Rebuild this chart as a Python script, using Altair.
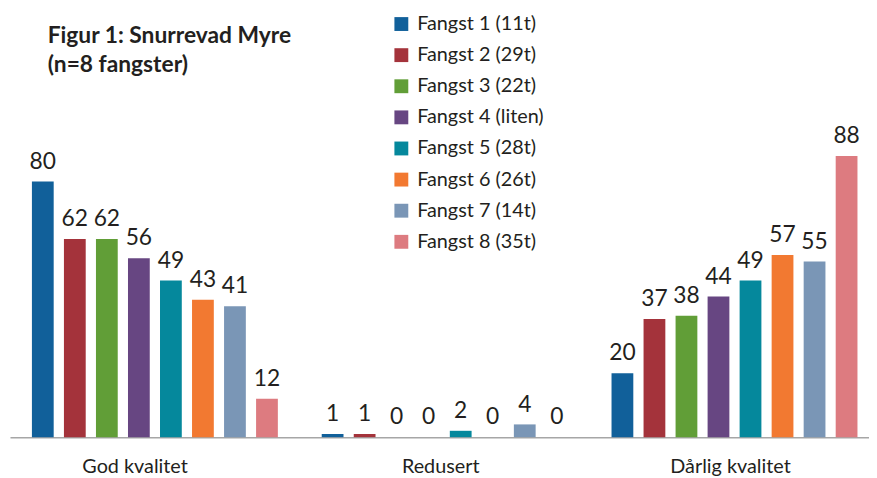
import altair as alt
import pandas as pd

categories = ["God kvalitet", "Redusert", "Dårlig kvalitet"]
series = ["Fangst 1 (11t)", "Fangst 2 (29t)", "Fangst 3 (22t)", "Fangst 4 (liten)",
          "Fangst 5 (28t)", "Fangst 6 (26t)", "Fangst 7 (14t)", "Fangst 8 (35t)"]
god = [80, 62, 62, 56, 49, 43, 41, 12]
redusert = [1, 1, 0, 0, 2, 0, 4, 0]
darlig = [20, 37, 38, 44, 49, 57, 55, 88]
colors = ["#11609A", "#A4333B", "#619E37", "#674682", "#05889C", "#F27931", "#7A96B6", "#DD7B80"]
title_lines = ["Figur 1: Snurrevad Myre", "(n=8 fangster)"]

rows = []
for cat, vals in zip(categories, [god, redusert, darlig]):
    for s, v in zip(series, vals):
        rows.append({"Kategori": cat, "Fangst": s, "Verdi": v})
df = pd.DataFrame(rows)

FONT = "Lato"
TXT = "#231f20"

x_enc = alt.X("Kategori:N", sort=categories,
              scale=alt.Scale(range=[0, 877.5], paddingInner=0.116, paddingOuter=0.058),
              axis=alt.Axis(title=None, labelAngle=0, ticks=False, domainColor="#a6a6a6",
                            domainWidth=1.5, labelFontSize=20, labelFont=FONT, labelColor=TXT,
                            labelPadding=20,
                            labelOffset={"condition": {"test": "datum.value == 'God kvalitet'", "value": -20},
                                         "value": -4}))
xo_enc = alt.XOffset("Fangst:N", sort=series,
                     scale=alt.Scale(paddingInner=0.32, paddingOuter=0.16))
y_enc = alt.Y("Verdi:Q", scale=alt.Scale(domain=[0, 133.6], nice=False), axis=None)

base = alt.Chart(df).encode(x=x_enc, xOffset=xo_enc, y=y_enc)

bars = base.mark_bar().encode(
    color=alt.Color("Fangst:N", sort=series,
                    scale=alt.Scale(domain=series, range=colors),
                    legend=alt.Legend(title=None, orient="none", legendX=385, legendY=4,
                                      symbolType="square", symbolSize=196, symbolStrokeWidth=0,
                                      labelFontSize=20, labelFont=FONT, labelColor=TXT,
                                      rowPadding=11.4, labelOffset=6, padding=0))
)
labels = base.mark_text(baseline="alphabetic", dy=-13, fontSize=23, font=FONT, color=TXT).encode(
    text=alt.Text("Verdi:Q")
)

title_df = pd.DataFrame({"t": ["\n".join(title_lines)]})
title = alt.Chart(title_df).mark_text(
    align="left", baseline="alphabetic", fontSize=23, fontWeight="bold", font=FONT,
    color=TXT, lineBreak="\n", lineHeight=29
).encode(x=alt.value(38), y=alt.value(33), text="t:N")

chart = alt.layer(bars, labels, title).properties(
    width=867, height=431,
    autosize=alt.AutoSizeParams(type="none"),
    padding={"left": 2, "top": 0, "right": 0, "bottom": 39},
).configure_view(stroke=None)

chart.save("out.html", embed_options={"renderer": "svg", "actions": False})
